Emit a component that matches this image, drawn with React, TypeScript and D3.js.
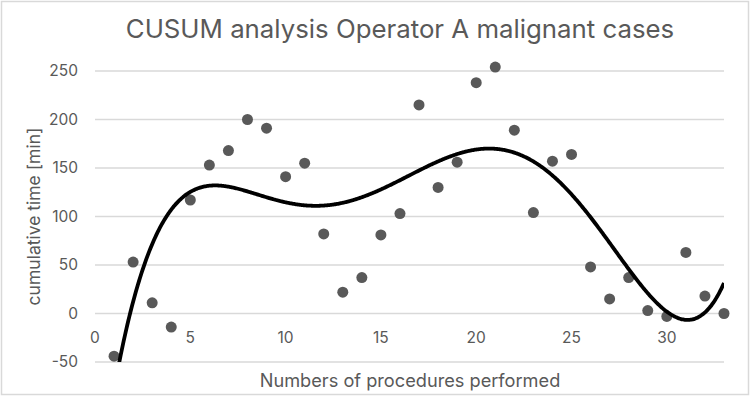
import { useEffect, useRef } from "react";
import * as d3 from "d3";

// procedure number and cumulative time (min)
const procedures = [
  1, 2, 3, 4, 5, 6, 7, 8, 9, 10, 11, 12, 13, 14, 15, 16, 17, 18, 19, 20, 21,
  22, 23, 24, 25, 26, 27, 28, 29, 30, 31, 32, 33,
];
const cusum = [
  -44, 53, 11, -14, 117, 153, 168, 200, 191, 141, 155, 82, 22, 37, 81, 103,
  215, 130, 156, 238, 254, 189, 104, 157, 164, 48, 15, 37, 3, -3, 63, 18, 0,
];
const xTicks = [0, 5, 10, 15, 20, 25, 30];
const yTicks = [-50, 0, 50, 100, 150, 200, 250];
const trendDegree = 5;

// least squares polynomial fit on a rescaled x
function polyFit(xs: number[], ys: number[], deg: number) {
  const c = d3.mean(xs) as number;
  const s = (d3.max(xs)! - d3.min(xs)!) / 2;
  const n = deg + 1;
  const A: number[][] = Array.from({ length: n }, () => new Array(n + 1).fill(0));
  xs.forEach((x, k) => {
    const t = (x - c) / s;
    for (let i = 0; i < n; i++) {
      for (let j = 0; j < n; j++) A[i][j] += Math.pow(t, i + j);
      A[i][n] += Math.pow(t, i) * ys[k];
    }
  });
  for (let i = 0; i < n; i++) {
    let p = i;
    for (let r = i + 1; r < n; r++) if (Math.abs(A[r][i]) > Math.abs(A[p][i])) p = r;
    [A[i], A[p]] = [A[p], A[i]];
    for (let r = 0; r < n; r++) {
      if (r === i) continue;
      const f = A[r][i] / A[i][i];
      for (let q = i; q <= n; q++) A[r][q] -= f * A[i][q];
    }
  }
  const coef = A.map((row, i) => row[n] / row[i]);
  return (x: number) => {
    const t = (x - c) / s;
    return coef.reduce((acc, a, i) => acc + a * Math.pow(t, i), 0);
  };
}

function App() {
  const svgRef = useRef<SVGSVGElement>(null);

  useEffect(() => {
    const width = 750;
    const height = 396;
    const margin = { top: 71, right: 26, bottom: 34, left: 95 };
    const grey = "#595959";
    const font = "Inter, 'Open Sans', sans-serif";

    const svg = d3.select(svgRef.current);
    svg.selectAll("*").remove();

    svg
      .append("rect")
      .attr("x", 1.5)
      .attr("y", 1.5)
      .attr("width", width - 3)
      .attr("height", height - 3)
      .attr("fill", "#fff")
      .attr("stroke", "#d9d9d9")
      .attr("stroke-width", 1.5);

    const x = d3
      .scaleLinear()
      .domain([0, 33])
      .range([margin.left, width - margin.right]);
    const y = d3
      .scaleLinear()
      .domain([-50, 250])
      .range([height - margin.bottom, margin.top]);

    svg
      .append("g")
      .selectAll("line")
      .data(yTicks)
      .enter()
      .append("line")
      .attr("x1", x(0))
      .attr("x2", x(33))
      .attr("y1", (d) => y(d))
      .attr("y2", (d) => y(d))
      .attr("stroke", "#d9d9d9")
      .attr("stroke-width", 1.3);

    svg
      .append("g")
      .selectAll("text")
      .data(yTicks)
      .enter()
      .append("text")
      .attr("x", 78)
      .attr("y", (d) => y(d))
      .attr("dy", "0.35em")
      .attr("text-anchor", "end")
      .attr("fill", grey)
      .style("font-family", font)
      .style("font-size", "15.5px")
      .text((d) => d);

    svg
      .append("g")
      .selectAll("text")
      .data(xTicks)
      .enter()
      .append("text")
      .attr("x", (d) => x(d))
      .attr("y", y(0) + 29)
      .attr("text-anchor", "middle")
      .attr("fill", grey)
      .style("font-family", font)
      .style("font-size", "15.5px")
      .text((d) => d);

    svg
      .append("g")
      .selectAll("circle")
      .data(procedures)
      .enter()
      .append("circle")
      .attr("cx", (d) => x(d))
      .attr("cy", (d, i) => y(cusum[i]))
      .attr("r", 5.5)
      .attr("fill", grey);

    // polynomial trendline, clipped to the plot area
    const trend = polyFit(procedures, cusum, trendDegree);
    const pts = d3.range(1, 33.001, 0.05).map((v) => [v, trend(v)] as [number, number]);
    svg
      .append("clipPath")
      .attr("id", "plot-clip")
      .append("rect")
      .attr("x", x(0))
      .attr("y", y(250) - 20)
      .attr("width", x(33) - x(0))
      .attr("height", y(-50) - y(250) + 20);
    svg
      .append("path")
      .datum(pts)
      .attr("clip-path", "url(#plot-clip)")
      .attr("fill", "none")
      .attr("stroke", "#000")
      .attr("stroke-width", 3.8)
      .attr(
        "d",
        d3
          .line()
          .x((d) => x(d[0]))
          .y((d) => y(d[1]))
          .curve(d3.curveMonotoneX)
      );

    svg
      .append("text")
      .attr("x", 400)
      .attr("y", 38)
      .attr("text-anchor", "middle")
      .attr("fill", grey)
      .style("font-family", font)
      .style("font-size", "25.8px")
      .text("CUSUM analysis Operator A malignant cases");

    svg
      .append("text")
      .attr("transform", `translate(40,${(y(250) + y(-50)) / 2}) rotate(-90)`)
      .attr("text-anchor", "middle")
      .attr("fill", grey)
      .style("font-family", font)
      .style("font-size", "17.5px")
      .text("cumulative time [min]");

    svg
      .append("text")
      .attr("x", 410)
      .attr("y", 387)
      .attr("text-anchor", "middle")
      .attr("fill", grey)
      .style("font-family", font)
      .style("font-size", "18.2px")
      .text("Numbers of procedures performed");
  }, []);

  return (
    <svg
      ref={svgRef}
      width={750}
      height={396}
      style={{ position: "absolute", left: 0, top: 0 }}
    ></svg>
  );
}

export default App;
